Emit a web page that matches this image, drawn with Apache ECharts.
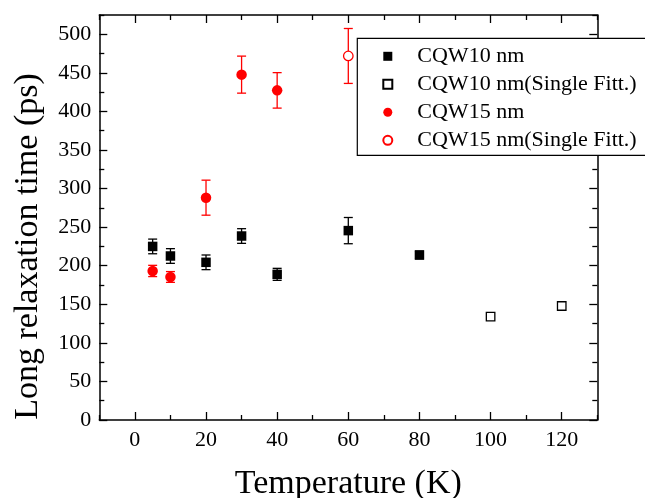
<!DOCTYPE html>
<html>
<head>
<meta charset="utf-8">
<script src="https://cdn.jsdelivr.net/npm/echarts@6/dist/echarts.min.js"></script>
<style>html,body{margin:0;padding:0;background:#fff;}#c{width:645px;height:498px;}</style>
</head>
<body>
<div id="c"></div>
<script>
// ---- data ----
const cqw10Temp = [5, 10, 20, 30, 40, 60, 80];
const cqw10Val  = [225, 212.6, 204.4, 238.5, 188.8, 245.5, 213.9];
const cqw10Err  = [9.5, 9.5, 9.5, 9.5, 7.8, 17, 5];
const cqw10sTemp = [100, 120];
const cqw10sVal  = [133.9, 147.8];
const cqw15Temp = [5, 10, 20, 30, 40];
const cqw15Val  = [193.2, 185.4, 288.2, 447.7, 427.3];
const cqw15Err  = [7.3, 7, 22.7, 24, 23];
const cqw15sTemp = [60];
const cqw15sVal  = [471.9];
const cqw15sErr  = [35.6];
const xMajor = [0, 20, 40, 60, 80, 100, 120];
const xMinor = [-10, 10, 30, 50, 70, 90, 110, 130];
const yMajor = [0, 50, 100, 150, 200, 250, 300, 350, 400, 450, 500];
const yMinor = [25, 75, 125, 175, 225, 275, 325, 375, 425, 475, 525];
const seriesNames = ['CQW10 nm', 'CQW10 nm(Single Fitt.)', 'CQW15 nm', 'CQW15 nm(Single Fitt.)'];

const FONT = 'Liberation Serif';
const pts = (xs, ys) => xs.map((x, i) => [x, ys[i]]);
const errs = (xs, ys, es) => xs.map((x, i) => [x, ys[i] - es[i], ys[i] + es[i]]);

function errRender(color) {
  return function (params, api) {
    const x = api.value(0), lo = api.value(1), hi = api.value(2);
    const a = api.coord([x, hi]), b = api.coord([x, lo]);
    const hw = 4.5;
    const st = { stroke: color, lineWidth: 1.3 };
    return { type: 'group', children: [
      { type: 'line', shape: { x1: a[0], y1: a[1], x2: b[0], y2: b[1] }, style: st },
      { type: 'line', shape: { x1: a[0] - hw, y1: a[1], x2: a[0] + hw, y2: a[1] }, style: st },
      { type: 'line', shape: { x1: b[0] - hw, y1: b[1], x2: b[0] + hw, y2: b[1] }, style: st }
    ]};
  };
}

const lineStyle = { color: '#000', width: 1.5 };
function xAx(pos, ticks, len, showLine, labels, name) {
  return {
    type: 'value', position: pos, min: -10, max: 130,
    axisLine: { show: showLine, onZero: false, lineStyle: lineStyle },
    axisTick: { show: true, inside: true, length: len, customValues: ticks, lineStyle: { color: '#000', width: 1.3 } },
    axisLabel: labels ? { show: true, customValues: xMajor, margin: 9, color: '#000', fontFamily: FONT, fontSize: 22 } : { show: false },
    splitLine: { show: false },
    name: name || '', nameLocation: 'middle', nameGap: 47,
    nameTextStyle: { fontFamily: FONT, fontSize: 34, color: '#000' }
  };
}
function yAx(pos, ticks, len, showLine, labels, name) {
  return {
    type: 'value', position: pos, min: 0, max: 525,
    axisLine: { show: showLine, onZero: false, lineStyle: lineStyle },
    axisTick: { show: true, inside: true, length: len, customValues: ticks, lineStyle: { color: '#000', width: 1.3 } },
    axisLabel: labels ? { show: true, customValues: yMajor, margin: 8, color: '#000', fontFamily: FONT, fontSize: 22 } : { show: false },
    splitLine: { show: false },
    name: name || '', nameLocation: 'middle', nameGap: 54, nameRotate: 90,
    nameTextStyle: { fontFamily: FONT, fontSize: 34, color: '#000', padding: [0, 58, 0, 0] }
  };
}

const chart = echarts.init(document.getElementById('c'), null, { renderer: 'canvas' });
chart.setOption({
  animation: false,
  backgroundColor: '#fff',
  grid: { left: 99.3, right: 47.7, top: 15, bottom: 78, containLabel: false, outerBoundsMode: 'none' },
  xAxis: [
    xAx('bottom', xMajor, 8, true, true, 'Temperature (K)'),
    xAx('bottom', xMinor, 5, false, false),
    xAx('top', xMajor, 8, true, false),
    xAx('top', xMinor, 5, false, false)
  ],
  yAxis: [
    yAx('left', yMajor, 8, true, true, 'Long relaxation time (ps)'),
    yAx('left', yMinor, 5, false, false),
    yAx('right', yMajor, 8, true, false),
    yAx('right', yMinor, 5, false, false)
  ],
  legend: {
    orient: 'vertical', left: 357.3, top: 38.3,
    padding: [7, 20, 4, 25], itemGap: 6, itemWidth: 9, itemHeight: 9,
    backgroundColor: '#fff', borderColor: '#000', borderWidth: 1.2, borderRadius: 0,
    textStyle: { fontFamily: FONT, fontSize: 22, color: '#000', padding: [0, 0, 0, 20] },
    data: seriesNames
  },
  series: [
    { type: 'custom', name: 'err10', renderItem: errRender('#000'), data: errs(cqw10Temp, cqw10Val, cqw10Err), z: 1 },
    { type: 'custom', name: 'err15', renderItem: errRender('#ff0000'), data: errs(cqw15Temp, cqw15Val, cqw15Err), z: 1 },
    { type: 'custom', name: 'err15s', renderItem: errRender('#ff0000'), data: errs(cqw15sTemp, cqw15sVal, cqw15sErr), z: 1 },
    { type: 'scatter', name: seriesNames[0], symbol: 'rect', symbolSize: 9.5, data: pts(cqw10Temp, cqw10Val),
      itemStyle: { color: '#000', opacity: 1 }, z: 3 },
    { type: 'scatter', name: seriesNames[1], symbol: 'rect', symbolSize: 8.5, data: pts(cqw10sTemp, cqw10sVal),
      itemStyle: { color: '#fff', borderColor: '#000', borderWidth: 1.3, opacity: 1 }, z: 3 },
    { type: 'scatter', name: seriesNames[2], symbol: 'circle', symbolSize: 10.5, data: pts(cqw15Temp, cqw15Val),
      itemStyle: { color: '#ff0000', opacity: 1 }, z: 3 },
    { type: 'scatter', name: seriesNames[3], symbol: 'circle', symbolSize: 9.5, data: pts(cqw15sTemp, cqw15sVal),
      itemStyle: { color: '#fff', borderColor: '#ff0000', borderWidth: 1.3, opacity: 1 }, z: 3 }
  ]
});
</script>
</body>
</html>
